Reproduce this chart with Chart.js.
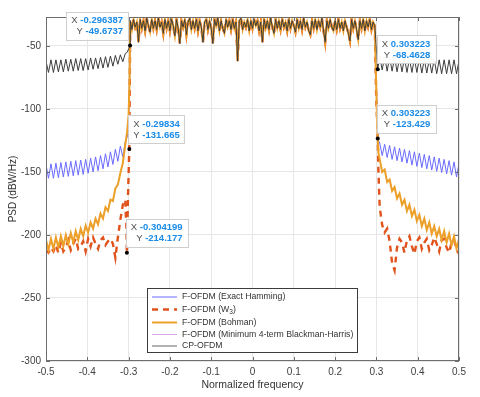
<!DOCTYPE html>
<html><head><meta charset="utf-8">
<script src="https://cdn.jsdelivr.net/npm/chart.js@4/dist/chart.umd.min.js"></script>
<style>html,body{margin:0;padding:0;background:#fff}#wrap{width:480px;height:397px;position:relative}</style>
</head><body><div id="wrap"><canvas id="c" width="480" height="397"></canvas></div>
<script>
// ---------- tick labels ----------
const xTickValues = [-0.5,-0.4,-0.3,-0.2,-0.1,0,0.1,0.2,0.3,0.4,0.5];
const yTickValues = [-300,-250,-200,-150,-100,-50];

// ---------- sampling grids (frequency, normalized) ----------
const leftOobStart = -0.5, rightOobStart = 0.308, oobStep = 0.006, oobCount = 33;
const inBandStart = -0.296, inBandStep = 0.004, inBandCount = 149;

// ---------- in-band PSD (shared by all waveforms, dBW/Hz) ----------
const inBandPsd = [
 -30,-37,-29,-35,-31,-47,-29,-36,-30,-38,
 -28,-34,-39,-29,-36,-30,-37,-28,-35,-31,
 -40,-29,-36,-30,-38,-29,-34,-42,-29,-36,
 -48,-30,-35,-29,-41,-31,-28,-37,-30,-36,
 -29,-38,-30,-35,-47,-31,-29,-37,-30,-36,
 -48,-29,-34,-28,-38,-30,-36,-40,-29,-35,
 -30,-37,-29,-36,-31,-62,-30,-28,-37,-31,
 -35,-29,-38,-30,-36,-29,-34,-30,-38,-31,
 -47,-29,-36,-30,-37,-28,-35,-40,-29,-36,
 -30,-37,-29,-35,-31,-38,-29,-36,-30,-34,
 -39,-29,-36,-30,-37,-28,-35,-31,-38,-41,
 -30,-36,-29,-37,-30,-35,-28,-38,-47,-30,
 -36,-29,-35,-38,-30,-37,-29,-36,-31,-38,
 -30,-35,-40,-46,-29,-36,-30,-37,-45,-30,
 -36,-29,-38,-30,-35,-29,-37,-31,-34
];

// ---------- out-of-band PSD, left side (-0.5 .. -0.308) ----------
const cpLeft = [-62,-71,-61,-71,-61,-70.5,-61,-70.5,-60.5,-70,-60.5,-70,-60,-69.5,-60,-69.5,-60,-69,-59.5,-68.5,-59.5,-68,-59,-67.5,-58.5,-67,-58,-66,-57.5,-64.5,-57,-62.5,-56];
const hammingLeft = [-144,-155,-143.5,-155,-143,-154.5,-142.5,-154,-142,-153.5,-141.5,-153,-141,-152.5,-140.5,-152,-140,-151,-139,-150,-138,-149,-137,-147.5,-135.5,-146,-134,-144,-132,-141.5,-129.5,-138,-126];
const bohmanLeft = [-204,-212,-203,-211,-202,-210,-201,-209,-200,-207.5,-198.5,-206,-197,-204,-195,-201,-192.5,-198,-190,-195,-187,-191.5,-183,-187,-178,-181,-172,-173,-163,-160,-151,-143,-128];
const w3Left = [-212,-214,-210,-213,-208,-214,-206,-213,-210,-204,-212,-207,-203,-211,-209,-205,-213,-203,-209,-202,-207,-211,-204,-202,-208,-205,-203,-207,-218,-202,-188,-176,-172];

// ---------- out-of-band PSD, right side (0.308 .. 0.5) ----------
const cpRight = [-58,-69,-58.5,-70,-59,-70,-59,-70.5,-59.5,-70.5,-59.5,-71,-60,-71,-60,-71,-60,-71.5,-60.5,-71.5,-60.5,-71.5,-60.5,-72,-61,-72,-61,-72,-61,-72,-61,-72,-61.5];
const hammingRight = [-127,-137,-128,-138.5,-129,-140,-130,-141,-131,-142,-132,-143,-133,-144.5,-134,-145.5,-135,-146.5,-136,-147.5,-137,-148.5,-138,-149.5,-139,-150.5,-140,-151.5,-141,-152.5,-142,-154,-143];
const bohmanRight = [-140,-150,-148,-158,-156,-165,-162,-171,-167,-176,-172,-181,-176,-185,-180,-189,-184,-193,-187,-196,-190,-199,-193,-201,-195,-204,-197,-206,-199,-208,-201,-211,-203];
const w3Right = [-178,-192,-198,-195,-205,-222,-228,-210,-203,-206,-214,-204,-201,-209,-215,-205,-202,-211,-206,-203,-212,-208,-202,-207,-213,-204,-203,-210,-214,-206,-204,-211,-215];

// ---------- band-edge samples ----------
const cpEdgeLF = [-0.3035,-0.2995,-0.296387], cpEdgeLV = [-55,-52,-49.6737];
const cpEdgeRF = [0.2985,0.303223,0.306],     cpEdgeRV = [-45,-68.4628,-63];
const hammingEdgeLF = [-0.303,-0.2995,-0.2975], hammingEdgeLV = [-122,-110,-80];
const hammingEdgeRF = [0.2995,0.3025,0.305],    hammingEdgeRV = [-75,-112,-125];
const bohmanEdgeLF = [-0.3035,-0.3,-0.2975], bohmanEdgeLV = [-118,-105,-75];
const bohmanEdgeRF = [0.2995,0.302,0.305],   bohmanEdgeRV = [-80,-115,-135];
const w3EdgeLF = [-0.3055,-0.304199,-0.3015,-0.29834], w3EdgeLV = [-195,-214.177,-170,-131.665];
const w3EdgeRF = [0.2995,0.303223,0.305],              w3EdgeRV = [-90,-123.429,-150];
// Blackman-Harris trace lies underneath the Bohman trace in the figure
const bhLeft = bohmanLeft, bhRight = bohmanRight;
const bhEdgeLF = bohmanEdgeLF, bhEdgeLV = bohmanEdgeLV, bhEdgeRF = bohmanEdgeRF, bhEdgeRV = bohmanEdgeRV;

// ---------- data tips ----------
const tipFreq = [-0.296387, 0.303223, -0.29834, 0.303223, -0.304199];
const tipPsd  = [-49.6737, -68.4628, -131.665, -123.429, -214.177];
const tipFreqText = ['-0.296387','0.303223','-0.29834','0.303223','-0.304199'];
const tipPsdText  = ['-49.6737','-68.4628','-131.665','-123.429','-214.177'];
const tipSide = ['left','right','right','right','right'];

const seriesNames = ['F-OFDM (Exact Hamming)','F-OFDM (W3)','F-OFDM (Bohman)','F-OFDM (Minimum 4-term Blackman-Harris)','CP-OFDM'];

function grid(start, step, n){ return Array.from({length:n},(_,i)=>+(start+i*step).toFixed(5)); }
const leftF = grid(leftOobStart, oobStep, oobCount);
const rightF = grid(rightOobStart, oobStep, oobCount);
const inF = grid(inBandStart, inBandStep, inBandCount);

function assemble(lv, elf, elv, erf, erv, rv){
  const pts = [];
  leftF.forEach((f,i)=>pts.push({x:f,y:lv[i]}));
  elf.forEach((f,i)=>pts.push({x:f,y:elv[i]}));
  inF.forEach((f,i)=>pts.push({x:f,y:inBandPsd[i]}));
  erf.forEach((f,i)=>pts.push({x:f,y:erv[i]}));
  rightF.forEach((f,i)=>pts.push({x:f,y:rv[i]}));
  return pts;
}

const FONT = "'Liberation Sans', Arial, Helvetica, sans-serif";
Chart.defaults.font.family = FONT;
Chart.defaults.color = '#404040';

const styles = [
  {color:'#6a6aff', width:1, dash:[]},
  {color:'#e0531c', width:2.4, dash:[6,5]},
  {color:'#eca028', width:2, dash:[]},
  {color:'#d8a6e6', width:1, dash:[]},
  {color:'#3c3c3c', width:1, dash:[]}
];

// drawing order: lower "order" is drawn on top
const drawOrder = [4, 3, 1, 2, 0];
const datasets = [
  {label:seriesNames[0], data:assemble(hammingLeft,hammingEdgeLF,hammingEdgeLV,hammingEdgeRF,hammingEdgeRV,hammingRight)},
  {label:seriesNames[1], data:assemble(w3Left,w3EdgeLF,w3EdgeLV,w3EdgeRF,w3EdgeRV,w3Right)},
  {label:seriesNames[2], data:assemble(bohmanLeft,bohmanEdgeLF,bohmanEdgeLV,bohmanEdgeRF,bohmanEdgeRV,bohmanRight)},
  {label:seriesNames[3], data:assemble(bhLeft,bhEdgeLF,bhEdgeLV,bhEdgeRF,bhEdgeRV,bhRight)},
  {label:seriesNames[4], data:assemble(cpLeft,cpEdgeLF,cpEdgeLV,cpEdgeRF,cpEdgeRV,cpRight)}
].map((d,i)=>Object.assign(d,{order:drawOrder[i], borderColor:styles[i].color, borderWidth:styles[i].width, borderDash:styles[i].dash, pointRadius:0, tension:0, fill:false}));

const extras = {
  id:'extras',
  afterDraw(chart){
    const {ctx, chartArea:a, scales:{x,y}} = chart;
    ctx.save();
    // frame
    ctx.strokeStyle = '#6e6e6e'; ctx.lineWidth = 1;
    ctx.strokeRect(Math.round(a.left)+0.5, Math.round(a.top)+0.5, Math.round(a.right-a.left)-1, Math.round(a.bottom-a.top)-1);
    // inward ticks
    ctx.beginPath();
    xTickValues.forEach(v=>{const p=Math.round(x.getPixelForValue(v))+0.5; ctx.moveTo(p,a.bottom); ctx.lineTo(p,a.bottom-4); ctx.moveTo(p,a.top); ctx.lineTo(p,a.top+4);});
    yTickValues.forEach(v=>{const p=Math.round(y.getPixelForValue(v))+0.5; ctx.moveTo(a.left,p); ctx.lineTo(a.left+4,p); ctx.moveTo(a.right,p); ctx.lineTo(a.right-4,p);});
    ctx.stroke();

    // data tips
    tipFreq.forEach((f,i)=>{
      const px = x.getPixelForValue(f), py = y.getPixelForValue(tipPsd[i]);
      ctx.font = "9.5px " + FONT;
      const wX = ctx.measureText('X ').width, wY = ctx.measureText('Y ').width;
      ctx.font = "bold 9.5px " + FONT;
      const v1 = ctx.measureText(tipFreqText[i]).width, v2 = ctx.measureText(tipPsdText[i]).width;
      const w = Math.max(wX+v1, wY+v2) + 10, h = 28;
      const bx = tipSide[i]==='left' ? px - 2 - w : px - 1;
      const by = py - 6 - h;
      ctx.fillStyle = 'rgba(255,255,255,0.96)';
      ctx.strokeStyle = '#cfcfcf';
      ctx.fillRect(bx, by, w, h);
      ctx.strokeRect(Math.round(bx)+0.5, Math.round(by)+0.5, Math.round(w), Math.round(h));
      const rx = bx + w - 5;
      ctx.textBaseline = 'middle'; ctx.textAlign = 'right';
      ctx.font = "bold 9.5px " + FONT; ctx.fillStyle = '#1a8be6';
      ctx.fillText(tipFreqText[i], rx, by + 9);
      ctx.fillText(tipPsdText[i], rx, by + 20);
      ctx.font = "9.5px " + FONT; ctx.fillStyle = '#505050';
      ctx.fillText('X ', rx - v1, by + 9);
      ctx.fillText('Y ', rx - v2, by + 20);
      ctx.fillStyle = '#000';
      ctx.beginPath(); ctx.arc(px, py, 2, 0, Math.PI*2); ctx.fill();
    });

    // legend
    const lx = 147, ly = 288, lw = 210, lh = 64;
    ctx.fillStyle = '#fff'; ctx.fillRect(lx, ly, lw, lh);
    ctx.strokeStyle = '#3c3c3c'; ctx.lineWidth = 1; ctx.strokeRect(lx+0.5, ly+0.5, lw, lh);
    const rows = [297, 309.5, 322.5, 334.5, 346];
    ctx.textAlign = 'left'; ctx.textBaseline = 'middle';
    seriesNames.forEach((name,i)=>{
      const st = styles[i], ry = rows[i];
      ctx.strokeStyle = i === 4 ? '#666' : st.color; ctx.lineWidth = st.width; ctx.setLineDash(st.dash);
      ctx.beginPath(); ctx.moveTo(152, ry); ctx.lineTo(177, ry); ctx.stroke();
      ctx.setLineDash([]);
      ctx.fillStyle = '#333';
      ctx.font = "8.7px " + FONT;
      if (i === 1) {
        const a1 = 'F-OFDM (W';
        ctx.fillText(a1, 182, ry);
        let cx = 182 + ctx.measureText(a1).width;
        ctx.font = "6.5px " + FONT; ctx.fillText('3', cx, ry + 3);
        cx += ctx.measureText('3').width;
        ctx.font = "8.7px " + FONT; ctx.fillText(')', cx, ry);
      } else {
        ctx.fillText(name, 182, ry);
      }
    });
    ctx.restore();
  }
};

new Chart(document.getElementById('c'), {
  type:'line',
  data:{datasets},
  options:{
    responsive:false, animation:false, devicePixelRatio:1,
    layout:{padding:{left:0, top:17, right:21, bottom:0}},
    plugins:{legend:{display:false}, tooltip:{enabled:false}},
    scales:{
      x:{type:'linear', min:-0.5, max:0.5,
        afterBuildTicks:s=>{s.ticks = xTickValues.map(v=>({value:v}));},
        afterFit:s=>{s.height = 36;},
        ticks:{font:{size:10}, color:'#404040', padding:5, maxRotation:0, autoSkip:false,
          callback:v=>{const r=Math.round(v*10)/10; return r===0?'0':String(r);}},
        grid:{color:'#e6e6e6', drawTicks:false},
        border:{display:false},
        title:{display:true, text:'Normalized frequency', font:{size:10.5}, color:'#333', padding:{top:0,bottom:6}}
      },
      y:{type:'linear', min:-300, max:-27,
        afterBuildTicks:s=>{s.ticks = yTickValues.map(v=>({value:v}));},
        afterFit:s=>{s.width = 46;},
        ticks:{font:{size:10}, color:'#404040', padding:5, autoSkip:false},
        grid:{color:'#e6e6e6', drawTicks:false},
        border:{display:false},
        title:{display:true, text:'PSD (dBW/Hz)', font:{size:10}, color:'#333', padding:{top:7,bottom:0}}
      }
    }
  },
  plugins:[extras]
});
</script>
</body></html>
